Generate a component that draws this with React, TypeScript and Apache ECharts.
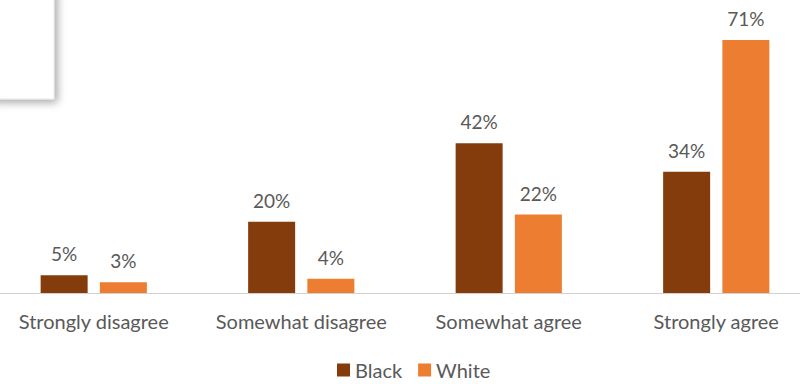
import React, { useEffect, useRef } from "react";
import * as echarts from "echarts";

const categories = ["Strongly disagree", "Somewhat disagree", "Somewhat agree", "Strongly agree"];
const blackValues = [5, 20, 42, 34];
const whiteValues = [3, 4, 22, 71];
const seriesNames = ["Black", "White"];

export default function App() {
  const ref = useRef<HTMLDivElement>(null);
  useEffect(() => {
    if (!ref.current) return;
    const chart = echarts.init(ref.current, undefined, { renderer: "svg" });
    const font = "Lato, 'Open Sans', sans-serif";
    const labelStyle = {
      show: true,
      position: "top" as const,
      distance: 12,
      color: "#595959",
      fontSize: 19,
      fontFamily: font,
      formatter: (p: any) => p.value + "%",
    };
    chart.setOption({
      animation: false,
      backgroundColor: "#ffffff",
      grid: { left: 0, right: 0, top: 40, bottom: 91, containLabel: false },
      xAxis: {
        type: "category",
        data: categories,
        axisLine: { show: true, lineStyle: { color: "#d0d0d0", width: 1 } },
        axisTick: { show: false },
        axisLabel: { color: "#595959", fontSize: 20, fontFamily: font, margin: 18, interval: 0 },
      },
      yAxis: {
        type: "value",
        min: 0,
        max: 71,
        show: false,
        splitLine: { show: false },
      },
      legend: {
        data: seriesNames,
        top: 355,
        left: 342,
        itemWidth: 13,
        itemHeight: 13,
        itemGap: 16,
        icon: "rect",
        textStyle: { color: "#595959", fontSize: 20, fontFamily: font },
      },
      series: [
        {
          name: seriesNames[0],
          type: "bar",
          data: blackValues,
          barWidth: 47,
          barGap: "26%",
          itemStyle: { color: "#843C0C" },
          label: labelStyle,
        },
        {
          name: seriesNames[1],
          type: "bar",
          data: whiteValues,
          barWidth: 47,
          barGap: "26%",
          itemStyle: { color: "#ED7D31" },
          label: labelStyle,
        },
      ],
      graphic: [
        {
          type: "rect",
          shape: { x: 0, y: -10, width: 64, height: 109 },
          style: {
            fill: "#ffffff",
            stroke: "#e6e6e6",
            lineWidth: 1,
            shadowBlur: 8,
            shadowOffsetX: 3,
            shadowOffsetY: 3,
            shadowColor: "rgba(0,0,0,0.35)",
          },
          z: 100,
        },
      ],
    });
    return () => chart.dispose();
  }, []);
  return (
    <div
      ref={ref}
      style={{ position: "fixed", left: -10, top: 0, width: 830, height: 384, background: "#fff" }}
    />
  );
}
